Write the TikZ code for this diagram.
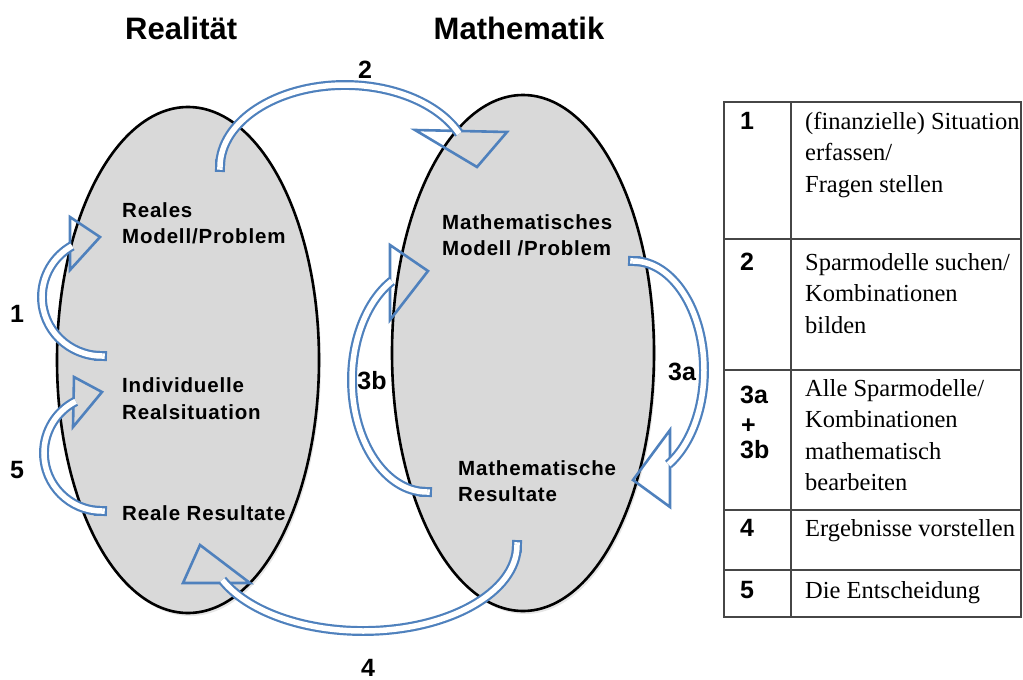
\documentclass[tikz,border=0pt]{standalone}
\usepackage{fontspec}
\setmainfont{Liberation Serif}
\newfontfamily\arialf{Liberation Sans}
\newfontfamily\arialsp[LetterSpace=4]{Liberation Sans}
\usetikzlibrary{shapes.geometric,shadows}
\definecolor{ablue}{RGB}{79,129,189}
\definecolor{efill}{RGB}{217,217,217}
\definecolor{tline}{RGB}{70,70,70}
\begin{document}
\begin{tikzpicture}[x=1pt,y=-1pt,
  ell/.style={ellipse, draw=black, line width=2.6pt, fill=efill, inner sep=0pt,
    drop shadow={opacity=0.2, shadow xshift=2pt, shadow yshift=-3pt}},
  titlefont/.style={font=\arialf\bfseries\fontsize{31}{31}\selectfont, inner sep=0pt},
  lbl/.style={font=\arialsp\bfseries\fontsize{20.5}{26.5}\selectfont, align=left, inner sep=0pt, anchor=base west},
  num/.style={font=\arialf\bfseries\fontsize{25}{25}\selectfont, inner sep=0pt},
  tnum/.style={font=\arialf\bfseries\fontsize{25}{25}\selectfont, inner sep=0pt, anchor=base west},
  ttxt/.style={font=\fontsize{24.5}{31.5}\selectfont, inner sep=0pt, anchor=base west, align=left},
  shaft/.style={draw=ablue, line width=2.2pt, double=white, double distance=5.5pt, line cap=butt},
  tailcap/.style={shaft, line cap=rect},
  ahead/.style={draw=ablue, line width=2.6pt, line join=miter},
  tab/.style={draw=tline, line width=1.4pt}
]
\useasboundingbox (0,0) rectangle (1023,680);

% ellipses
\node[ell, minimum width=262pt, minimum height=506pt] (realE) at (188,360) {};
\node[ell, minimum width=262pt, minimum height=516pt] (mathE) at (523,353) {};

% titles
\node[titlefont, anchor=base west] (tReal) at (125,39) {Realität};
\node[titlefont, anchor=base] (tMath) at (519,39) {Mathematik};

% tail points
\coordinate (t1) at (102,356);
\coordinate (t5) at (102,511);
\coordinate (t3b) at (427,492);
\coordinate (t3a) at (633,261);
\coordinate (t4) at (517,545);
\coordinate (t2) at (220,167);

% heads
\draw[ahead] (70,217) coordinate (h1a) -- (100,237) coordinate (h1b) -- (70,270) coordinate (h1c) -- cycle;
\draw[ahead] (74,377) coordinate (h5a) -- (102,392) coordinate (h5b) -- (73,427) coordinate (h5c) -- cycle;
\draw[ahead] (390,245) coordinate (h3ba) -- (428,271) coordinate (h3bb) -- (390,320) coordinate (h3bc) -- cycle;
\draw[ahead] (670,430) coordinate (h3aa) -- (633,480) coordinate (h3ab) -- (670,507) coordinate (h3ac) -- cycle;
\draw[ahead] (200,545) coordinate (h4a) -- (250,583) coordinate (h4b) -- (183,583) coordinate (h4c) -- cycle;
\draw[ahead] (415,130) coordinate (h2a) -- (507,132) coordinate (h2b) -- (477,167) coordinate (h2c) -- cycle;

% shafts: tail caps
\draw[tailcap] (t1) arc[start angle=90, end angle=93, x radius=60, y radius=59];
\draw[tailcap] (t5) arc[start angle=90, end angle=93, x radius=58, y radius=58];
\draw[tailcap] (t3b) arc[start angle=90, end angle=92, x radius=75, y radius=112];
\draw[tailcap] (t3a) arc[start angle=270, end angle=272, x radius=71, y radius=109];
\draw[tailcap] (t4) arc[start angle=0, end angle=2, x radius=154, y radius=86];
\draw[tailcap] (t2) arc[start angle=180, end angle=182, x radius=125, y radius=82];
% shafts
\draw[shaft] (t1) arc[start angle=90, end angle=240, x radius=60, y radius=59];
\draw[shaft] (t5) arc[start angle=90, end angle=243, x radius=58, y radius=58];
\draw[shaft] (t3b) arc[start angle=90, end angle=242, x radius=75, y radius=112];
\draw[shaft] (t3a) arc[start angle=270, end angle=420, x radius=71, y radius=109];
\draw[shaft] (t4) arc[start angle=0, end angle=156, x radius=154, y radius=86];
\draw[shaft] (t2) arc[start angle=180, end angle=336, x radius=125, y radius=82];

% arrow labels
\node[num] (n2) at (365,70) {2};
\node[num] (n1) at (17,314) {1};
\node[num] (n5) at (17,470) {5};
\node[num] (n3b) at (372,381) {3b};
\node[num] (n3a) at (682,372) {3a};
\node[num] (n4) at (368,668) {4};

% ellipse labels (anchor = baseline of last line)
\node[lbl] (lReal) at (122,243.5) {Reales\\Modell/Problem};
\node[lbl] (lInd) at (122,419) {Individuelle\\Realsituation};
\node[lbl] (lRes) at (122,520) {Reale Resultate};
\node[lbl] (lMath) at (442,255.5) {Mathematisches\\Modell /Problem};
\node[lbl] (lMRes) at (458,501.5) {Mathematische\\Resultate};

% table
\draw[tab] (724,102) rectangle (1021,617);
\draw[tab] (791,102) -- (791,617);
\draw[tab] (724,239) -- (1021,239);
\draw[tab] (724,370) -- (1021,370);
\draw[tab] (724,510) -- (1021,510);
\draw[tab] (724,570) -- (1021,570);

\node[tnum] (r1n) at (740,129) {1};
\node[ttxt] (r1t) at (805,192) {(finanzielle) Situation\\erfassen/\\Fragen stellen};
\node[tnum] (r2n) at (740,270) {2};
\node[ttxt] (r2t) at (805,333) {Sparmodelle suchen/\\Kombinationen\\bilden};
\node[tnum] (r3n) at (740,403) {3a};
\node[tnum] (r3p) at (741,433) {+};
\node[tnum] (r3m) at (740,458) {3b};
\node[ttxt] (r3t) at (805,490.5) {Alle Sparmodelle/\\Kombinationen\\mathematisch\\bearbeiten};
\node[tnum] (r4n) at (740,536) {4};
\node[ttxt] (r4t) at (805,536) {Ergebnisse vorstellen};
\node[tnum] (r5n) at (740,598) {5};
\node[ttxt] (r5t) at (805,598) {Die Entscheidung};
\end{tikzpicture}
\end{document}
